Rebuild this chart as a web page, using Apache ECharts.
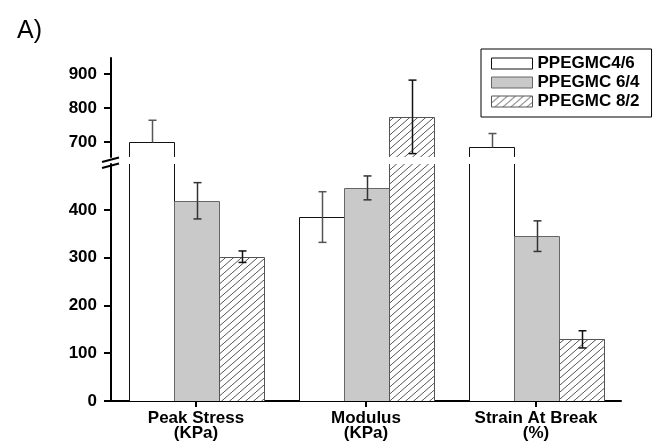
<!DOCTYPE html>
<html>
<head>
<meta charset="utf-8">
<script src="https://cdn.jsdelivr.net/npm/echarts@6/dist/echarts.min.js"></script>
<style>
  html, body { margin: 0; padding: 0; background: #fff; }
  #chart { width: 662px; height: 444px; }
</style>
</head>
<body>
<div id="chart"></div>
<script>
// ---- data ----
const categories = ['Peak Stress\n(KPa)', 'Modulus\n(KPa)', 'Strain At Break\n(%)'];
const seriesNames = ['PPEGMC4/6', 'PPEGMC 6/4', 'PPEGMC 8/2'];
const mean46 = [700, 385, 685];
const sd46 = [64, 53, 40];
const mean64 = [419, 446, 345];
const sd64 = [38, 25, 32];
const mean82 = [302, 774, 129];
const sd82 = [12, 108, 18];
const lowerTicks = [0, 100, 200, 300, 400];
const upperTicks = [700, 800, 900];
const lowerRange = [0, 496];
const upperRange = [656, 947];

// ---- styles ----
const FONT = 'Arial, "Liberation Sans", sans-serif';
const BAR_FRAC = 45 / 170;

function makeHatch() {
  const c = document.createElement('canvas');
  c.width = 8; c.height = 7;
  const g = c.getContext('2d');
  g.fillStyle = '#ffffff';
  g.fillRect(0, 0, 8, 7);
  g.strokeStyle = '#555555';
  g.lineWidth = 1;
  g.beginPath();
  g.moveTo(-1, 7 + 7 / 8);
  g.lineTo(9, -7 / 8);
  g.stroke();
  return c;
}
const hatch = { image: makeHatch(), repeat: 'repeat' };

const barStyles = [
  { fill: '#ffffff', stroke: '#111111', err: '#555555' },
  { fill: '#c9c9c9', stroke: '#666666', err: '#333333' },
  { fill: hatch, stroke: '#555555', err: '#111111' }
];

const groups = [
  { name: seriesNames[0], mean: mean46, sd: sd46 },
  { name: seriesNames[1], mean: mean64, sd: sd64 },
  { name: seriesNames[2], mean: mean82, sd: sd82 }
];

function makeRender(k) {
  const st = barStyles[k];
  return function (params, api) {
    const cs = params.coordSys;
    const idx = api.value(0), v = api.value(1), sd = api.value(2);
    const band = api.size([1, 0])[0];
    const bw = band * BAR_FRAC;
    const cx = api.coord([idx, v])[0];
    const left = Math.round(cx + (k - 1.5) * bw) + 0.5;
    const right = Math.round(cx + (k - 0.5) * bw) + 0.5;
    const mid = Math.round((left + right) / 2) + 0.5;
    const yBase = cs.y + cs.height;
    const yTop = api.coord([idx, v])[1];
    if (yTop >= yBase) return { type: 'group', children: [] };
    const clipped = yTop < cs.y;
    const t = clipped ? cs.y : Math.round(yTop) + 0.5;
    const children = [];
    children.push({
      type: 'rect',
      shape: { x: left, y: t, width: right - left, height: yBase - t },
      style: { fill: st.fill, stroke: null }
    });
    if (clipped) {
      children.push({ type: 'line', shape: { x1: left, y1: t, x2: left, y2: yBase }, style: { stroke: st.stroke, lineWidth: 1 } });
      children.push({ type: 'line', shape: { x1: right, y1: t, x2: right, y2: yBase }, style: { stroke: st.stroke, lineWidth: 1 } });
    } else {
      children.push({
        type: 'polyline',
        shape: { points: [[left, yBase], [left, t], [right, t], [right, yBase]] },
        style: { stroke: st.stroke, lineWidth: 1, fill: null }
      });
      const yHi = api.coord([idx, v + sd])[1];
      const yLo = api.coord([idx, v - sd])[1];
      const cap = 4;
      if (yHi >= cs.y) {
        children.push({ type: 'line', shape: { x1: mid, y1: t, x2: mid, y2: yHi }, style: { stroke: st.err, lineWidth: 1.5 } });
        children.push({ type: 'line', shape: { x1: mid - cap, y1: yHi, x2: mid + cap, y2: yHi }, style: { stroke: st.err, lineWidth: 1.5 } });
      }
      if (yLo <= yBase) {
        children.push({ type: 'line', shape: { x1: mid, y1: t, x2: mid, y2: yLo }, style: { stroke: st.err, lineWidth: 1.5 } });
        children.push({ type: 'line', shape: { x1: mid - cap, y1: yLo, x2: mid + cap, y2: yLo }, style: { stroke: st.err, lineWidth: 1.5 } });
      }
    }
    return { type: 'group', children: children };
  };
}

const series = [];
[0, 1].forEach(function (gi) {
  groups.forEach(function (g, k) {
    series.push({
      type: 'custom',
      name: g.name,
      xAxisIndex: gi,
      yAxisIndex: gi,
      renderItem: makeRender(k),
      itemStyle: { color: barStyles[k].fill, borderColor: barStyles[k].stroke, borderWidth: 1 },
      encode: { x: 0, y: 1 },
      data: g.mean.map(function (m, i) { return [i, m, g.sd[i]]; }),
      silent: true,
      animation: false
    });
  });
});

const yAxisCommon = {
  type: 'value',
  axisLine: { show: true, lineStyle: { color: '#000', width: 2 } },
  axisTick: { show: true, length: 7, lineStyle: { color: '#000', width: 2 } },
  axisLabel: { color: '#000', fontFamily: FONT, fontWeight: 'bold', fontSize: 17, margin: 14 },
  splitLine: { show: false }
};

const option = {
  backgroundColor: '#ffffff',
  animation: false,
  title: {
    text: 'A)', left: 17, top: 19, padding: 0,
    textStyle: { fontFamily: FONT, fontWeight: 'normal', fontSize: 25, color: '#000' }
  },
  legend: {
    orient: 'vertical',
    left: 481, top: 49,
    padding: [6, 12, 7, 10],
    borderColor: '#000', borderWidth: 1,
    itemWidth: 41, itemHeight: 11, itemGap: 2,
    selectedMode: false,
    icon: 'rect',
    textStyle: { fontFamily: FONT, fontWeight: 'bold', fontSize: 17, color: '#000' },
    data: seriesNames.map(function (n, k) {
      return { name: n, icon: 'rect', itemStyle: { color: barStyles[k].fill, borderColor: barStyles[k].stroke, borderWidth: 1 } };
    })
  },
  grid: [
    { left: 111, right: 41, top: 58, height: 99 },
    { left: 111, right: 41, top: 164, height: 237 }
  ],
  xAxis: [
    { type: 'category', gridIndex: 0, data: categories, show: false },
    {
      type: 'category', gridIndex: 1, data: categories,
      axisLine: { lineStyle: { color: '#000', width: 2 } },
      axisTick: { show: true, alignWithLabel: true, length: 6, lineStyle: { color: '#000', width: 2 } },
      axisLabel: { color: '#000', fontFamily: FONT, fontWeight: 'bold', fontSize: 17, lineHeight: 15, margin: 10 }
    }
  ],
  yAxis: [
    Object.assign({}, yAxisCommon, {
      gridIndex: 0, min: upperRange[0], max: upperRange[1],
      axisTick: Object.assign({}, yAxisCommon.axisTick, { customValues: upperTicks }),
      axisLabel: Object.assign({}, yAxisCommon.axisLabel, { customValues: upperTicks })
    }),
    Object.assign({}, yAxisCommon, {
      gridIndex: 1, min: lowerRange[0], max: lowerRange[1],
      axisTick: Object.assign({}, yAxisCommon.axisTick, { customValues: lowerTicks }),
      axisLabel: Object.assign({}, yAxisCommon.axisLabel, { customValues: lowerTicks })
    })
  ],
  graphic: [
    { type: 'line', shape: { x1: 102, y1: 162, x2: 119, y2: 157.5 }, style: { stroke: '#000', lineWidth: 2 }, z: 100 },
    { type: 'line', shape: { x1: 102, y1: 168, x2: 119, y2: 163.5 }, style: { stroke: '#000', lineWidth: 2 }, z: 100 }
  ],
  series: series
};

const chart = echarts.init(document.getElementById('chart'), null, { renderer: 'canvas' });
chart.setOption(option);
</script>
</body>
</html>
